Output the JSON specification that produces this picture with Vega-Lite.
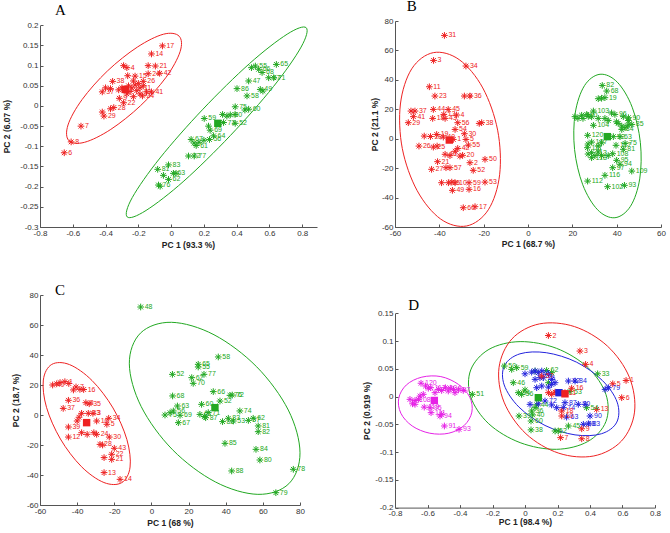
{
  "$schema": "https://vega.github.io/schema/vega-lite/v6.json",
  "background": "white",
  "padding": {"left": 2, "top": -1, "right": 5, "bottom": 5},
  "columns": 2,
  "spacing": {"row": 68, "column": 78},
  "bounds": "flush",
  "datasets": {
    "pA": [
      {"x":-0.053,"y":0.149,"g":"r","l":"17"},{"x":-0.12,"y":0.129,"g":"r","l":"14"},{"x":-0.096,"y":0.099,"g":"r","l":"21"},{"x":-0.14,"y":0.1,"g":"r","l":""},{"x":-0.07,"y":0.081,"g":"r","l":"42"},{"x":-0.14,"y":0.08,"g":"r","l":"24"},{"x":-0.29,"y":0.1,"g":"r","l":""},{"x":-0.27,"y":0.095,"g":"r","l":"4"},{"x":-0.22,"y":0.074,"g":"r","l":"15"},{"x":-0.265,"y":0.075,"g":"r","l":""},{"x":-0.357,"y":0.061,"g":"r","l":"38"},{"x":-0.42,"y":0.035,"g":"r","l":"37"},{"x":-0.4,"y":0.045,"g":"r","l":""},{"x":-0.37,"y":0.043,"g":"r","l":""},{"x":-0.17,"y":0.061,"g":"r","l":"26"},{"x":-0.12,"y":0.035,"g":"r","l":"41"},{"x":-0.175,"y":0.025,"g":"r","l":"24"},{"x":-0.316,"y":0.019,"g":"r","l":"9"},{"x":-0.29,"y":0.008,"g":"r","l":"22"},{"x":-0.23,"y":0.023,"g":"r","l":""},{"x":-0.35,"y":-0.004,"g":"r","l":"28"},{"x":-0.37,"y":-0.007,"g":"r","l":""},{"x":-0.41,"y":-0.025,"g":"r","l":"29"},{"x":-0.42,"y":-0.015,"g":"r","l":""},{"x":-0.55,"y":-0.05,"g":"r","l":"7"},{"x":-0.61,"y":-0.089,"g":"r","l":"8"},{"x":-0.652,"y":-0.116,"g":"r","l":"6"},{"x":-0.26,"y":0.05,"g":"r","l":""},{"x":-0.24,"y":0.045,"g":"r","l":""},{"x":-0.22,"y":0.052,"g":"r","l":""},{"x":-0.2,"y":0.056,"g":"r","l":""},{"x":-0.19,"y":0.045,"g":"r","l":"11"},{"x":-0.25,"y":0.036,"g":"r","l":""},{"x":-0.21,"y":0.038,"g":"r","l":""},{"x":-0.23,"y":0.062,"g":"r","l":""},{"x":-0.3,"y":0.045,"g":"r","l":""},{"x":-0.17,"y":0.05,"g":"r","l":""},{"x":-0.19,"y":0.03,"g":"r","l":"27"},{"x":-0.15,"y":0.035,"g":"r","l":""},{"x":-0.27,"y":0.03,"g":"r","l":""},{"x":-0.32,"y":0.04,"g":"r","l":""},
      {"x":0.642,"y":0.103,"g":"g","l":"65"},{"x":0.514,"y":0.099,"g":"g","l":"55"},{"x":0.49,"y":0.095,"g":"g","l":""},{"x":0.534,"y":0.091,"g":"g","l":"66"},{"x":0.555,"y":0.083,"g":"g","l":"68"},{"x":0.626,"y":0.07,"g":"g","l":"71"},{"x":0.595,"y":0.07,"g":"g","l":"57"},{"x":0.473,"y":0.062,"g":"g","l":"47"},{"x":0.402,"y":0.043,"g":"g","l":"86"},{"x":0.544,"y":0.041,"g":"g","l":"49"},{"x":0.56,"y":0.037,"g":"g","l":""},{"x":0.463,"y":0.025,"g":"g","l":"58"},{"x":0.391,"y":-0.002,"g":"g","l":"75"},{"x":0.473,"y":-0.008,"g":"g","l":"60"},{"x":0.45,"y":-0.01,"g":"g","l":""},{"x":0.361,"y":-0.022,"g":"g","l":"80"},{"x":0.39,"y":-0.021,"g":"g","l":""},{"x":0.34,"y":-0.025,"g":"g","l":""},{"x":0.314,"y":-0.021,"g":"g","l":""},{"x":0.202,"y":-0.031,"g":"g","l":"59"},{"x":0.391,"y":-0.043,"g":"g","l":"52"},{"x":0.32,"y":-0.041,"g":"g","l":"73"},{"x":0.238,"y":-0.06,"g":"g","l":"69"},{"x":0.228,"y":-0.05,"g":"g","l":""},{"x":0.259,"y":-0.074,"g":"g","l":"64"},{"x":0.234,"y":-0.083,"g":"g","l":"56"},{"x":0.153,"y":-0.098,"g":"g","l":"61"},{"x":0.122,"y":-0.083,"g":"g","l":"67"},{"x":0.14,"y":-0.092,"g":"g","l":""},{"x":0.17,"y":-0.09,"g":"g","l":""},{"x":0.2,"y":-0.085,"g":"g","l":""},{"x":0.106,"y":-0.124,"g":"g","l":"72"},{"x":0.141,"y":-0.124,"g":"g","l":"77"},{"x":-0.016,"y":-0.146,"g":"g","l":"83"},{"x":-0.082,"y":-0.157,"g":"g","l":"81"},{"x":0.014,"y":-0.167,"g":"g","l":"63"},{"x":0.03,"y":-0.167,"g":"g","l":""},{"x":-0.016,"y":-0.182,"g":"g","l":"62"},{"x":-0.047,"y":-0.172,"g":"g","l":""},{"x":-0.077,"y":-0.196,"g":"g","l":"76"},{"x":-0.067,"y":-0.199,"g":"g","l":""}
    ],
    "cA": [{"x":-0.28,"y":0.041,"g":"r"},{"x":0.285,"y":-0.043,"g":"g"}],
    "eA": [
      {"g":"r","i":0,"x":0.049,"y":0.173},{"g":"r","i":1,"x":0.055,"y":0.135},{"g":"r","i":2,"x":-0.031,"y":0.071},{"g":"r","i":3,"x":-0.186,"y":0.001},{"g":"r","i":4,"x":-0.368,"y":-0.058},{"g":"r","i":5,"x":-0.528,"y":-0.09},{"g":"r","i":6,"x":-0.624,"y":-0.086},{"g":"r","i":7,"x":-0.629,"y":-0.047},{"g":"r","i":8,"x":-0.543,"y":0.016},{"g":"r","i":9,"x":-0.388,"y":0.087},{"g":"r","i":10,"x":-0.206,"y":0.146},{"g":"r","i":11,"x":-0.046,"y":0.178},
      {"g":"g","i":0,"x":0.824,"y":0.194},{"g":"g","i":1,"x":0.793,"y":0.146},{"g":"g","i":2,"x":0.624,"y":0.048},{"g":"g","i":3,"x":0.362,"y":-0.073},{"g":"g","i":4,"x":0.078,"y":-0.186},{"g":"g","i":5,"x":-0.153,"y":-0.259},{"g":"g","i":6,"x":-0.268,"y":-0.275},{"g":"g","i":7,"x":-0.237,"y":-0.227},{"g":"g","i":8,"x":-0.068,"y":-0.129},{"g":"g","i":9,"x":0.194,"y":-0.008},{"g":"g","i":10,"x":0.478,"y":0.105},{"g":"g","i":11,"x":0.708,"y":0.178}
    ],
    "pB": [
      {"x":-37.7,"y":70.2,"g":"r","l":"31"},{"x":-42.6,"y":53.2,"g":"r","l":"3"},{"x":-28,"y":49.4,"g":"r","l":"34"},{"x":-44.5,"y":35.3,"g":"r","l":"11"},{"x":-42,"y":29,"g":"r","l":"23"},{"x":-28.7,"y":29,"g":"r","l":"9"},{"x":-26.2,"y":29,"g":"r","l":"36"},{"x":-52.8,"y":18.8,"g":"r","l":""},{"x":-51,"y":18.8,"g":"r","l":"37"},{"x":-42.7,"y":19.9,"g":"r","l":"44"},{"x":-36,"y":19.9,"g":"r","l":"45"},{"x":-38,"y":16.5,"g":"r","l":"13"},{"x":-32.2,"y":16.1,"g":"r","l":"4"},{"x":-51.7,"y":15,"g":"r","l":"41"},{"x":-54,"y":10.9,"g":"r","l":"29"},{"x":-43,"y":13.8,"g":"r","l":"18"},{"x":-37.4,"y":13.8,"g":"r","l":"43"},{"x":-31.7,"y":10.9,"g":"r","l":"56"},{"x":-22,"y":10.4,"g":"r","l":""},{"x":-20.9,"y":10.9,"g":"r","l":"38"},{"x":-32.9,"y":6.3,"g":"r","l":"54"},{"x":-28.7,"y":3.4,"g":"r","l":"30"},{"x":-46.8,"y":1.8,"g":"r","l":""},{"x":-41.2,"y":2.9,"g":"r","l":"19"},{"x":-44,"y":1.5,"g":"r","l":"28"},{"x":-38.2,"y":1.1,"g":"r","l":"40"},{"x":-33.7,"y":-0.5,"g":"r","l":"1"},{"x":-28,"y":-0.5,"g":"r","l":"5"},{"x":-26.9,"y":-4.3,"g":"r","l":"55"},{"x":-49.2,"y":-5,"g":"r","l":"26"},{"x":-42.7,"y":-5.7,"g":"r","l":"25"},{"x":-41,"y":-5,"g":"r","l":""},{"x":-31.7,"y":-6.6,"g":"r","l":"42"},{"x":-32.8,"y":-8.5,"g":"r","l":""},{"x":-37.4,"y":-10.6,"g":"r","l":"46"},{"x":-35.2,"y":-11.5,"g":"r","l":""},{"x":-29.5,"y":-11.3,"g":"r","l":"20"},{"x":-30.7,"y":-11.8,"g":"r","l":""},{"x":-19.4,"y":-14,"g":"r","l":"50"},{"x":-40.8,"y":-15.6,"g":"r","l":"21"},{"x":-26.2,"y":-16.3,"g":"r","l":"2"},{"x":-43.5,"y":-20.8,"g":"r","l":"27"},{"x":-37,"y":-19.7,"g":"r","l":""},{"x":-35.2,"y":-19.7,"g":"r","l":"57"},{"x":-24.7,"y":-21.5,"g":"r","l":"52"},{"x":-39,"y":-29.9,"g":"r","l":""},{"x":-35.9,"y":-29.9,"g":"r","l":"35"},{"x":-34.4,"y":-29.5,"g":"r","l":""},{"x":-32.9,"y":-29.9,"g":"r","l":"10"},{"x":-26.6,"y":-29.9,"g":"r","l":"59"},{"x":-19.4,"y":-29.5,"g":"r","l":"53"},{"x":-34.1,"y":-35.1,"g":"r","l":"49"},{"x":-26.6,"y":-34.4,"g":"r","l":"16"},{"x":-29.2,"y":-46.9,"g":"r","l":"60"},{"x":-23.9,"y":-46.2,"g":"r","l":"17"},
      {"x":33.5,"y":36.2,"g":"g","l":"82"},{"x":35.5,"y":32.4,"g":"g","l":"68"},{"x":31.7,"y":27.2,"g":"g","l":""},{"x":34.7,"y":27.9,"g":"g","l":"19"},{"x":33.2,"y":27.5,"g":"g","l":""},{"x":29.5,"y":18.8,"g":"g","l":"103"},{"x":39.2,"y":16.5,"g":"g","l":"96"},{"x":37.7,"y":17.5,"g":"g","l":""},{"x":21.2,"y":15,"g":"g","l":""},{"x":24.2,"y":15.9,"g":"g","l":"100"},{"x":26.5,"y":16.5,"g":"g","l":""},{"x":27.2,"y":15.2,"g":"g","l":""},{"x":45.3,"y":14.3,"g":"g","l":"90"},{"x":43,"y":15,"g":"g","l":""},{"x":29.5,"y":9.1,"g":"g","l":"104"},{"x":46.8,"y":9.7,"g":"g","l":"85"},{"x":45,"y":9.1,"g":"g","l":""},{"x":42.3,"y":8.6,"g":"g","l":""},{"x":42.3,"y":6.3,"g":"g","l":"84"},{"x":26.9,"y":2.3,"g":"g","l":"120"},{"x":38.5,"y":1.4,"g":"g","l":"92"},{"x":41.5,"y":1.4,"g":"g","l":"63"},{"x":28.7,"y":-2.3,"g":"g","l":"107"},{"x":43.8,"y":-3.2,"g":"g","l":"75"},{"x":39.7,"y":-4.5,"g":"g","l":"117"},{"x":26.8,"y":-6.1,"g":"g","l":"111"},{"x":43,"y":-7.2,"g":"g","l":"81"},{"x":28.7,"y":-9.5,"g":"g","l":"113"},{"x":31.7,"y":-9,"g":"g","l":""},{"x":38.2,"y":-10.2,"g":"g","l":"108"},{"x":28.7,"y":-12.9,"g":"g","l":"118"},{"x":40,"y":-14.7,"g":"g","l":"95"},{"x":41.5,"y":-17.4,"g":"g","l":"94"},{"x":38.2,"y":-19.7,"g":"g","l":"97"},{"x":46.8,"y":-22,"g":"g","l":"109"},{"x":34.7,"y":-24.9,"g":"g","l":"116"},{"x":26.9,"y":-28.8,"g":"g","l":"112"},{"x":35.9,"y":-32.6,"g":"g","l":"102"},{"x":43.5,"y":-31.7,"g":"g","l":"93"},{"x":22.5,"y":13.8,"g":"g","l":""},{"x":24.8,"y":13.8,"g":"g","l":""},{"x":28.7,"y":14.9,"g":"g","l":""},{"x":31.7,"y":13.8,"g":"g","l":""},{"x":34.7,"y":13.8,"g":"g","l":""},{"x":36.2,"y":12.4,"g":"g","l":""},{"x":39.9,"y":11.5,"g":"g","l":""},{"x":40.7,"y":10.4,"g":"g","l":""},{"x":43.8,"y":7.5,"g":"g","l":""},{"x":45.3,"y":12.4,"g":"g","l":""},{"x":27.1,"y":-3.6,"g":"g","l":""},{"x":31.7,"y":-5,"g":"g","l":""},{"x":33.2,"y":-2.8,"g":"g","l":""},{"x":27.1,"y":-10.4,"g":"g","l":""},{"x":30.2,"y":-11.5,"g":"g","l":""},{"x":33.2,"y":-11.5,"g":"g","l":""},{"x":36.2,"y":-11.5,"g":"g","l":""}
    ],
    "cB": [{"x":-35.5,"y":-0.9,"g":"r"},{"x":35.8,"y":1.4,"g":"g"}],
    "eB": [
      {"g":"r","i":0,"x":-27.7,"y":-59.3},{"g":"r","i":1,"x":-39.4,"y":-54.6},{"g":"r","i":2,"x":-50.0,"y":-35.3},{"g":"r","i":3,"x":-56.7,"y":-6.7},{"g":"r","i":4,"x":-57.55,"y":23.6},{"g":"r","i":5,"x":-52.45,"y":47.5},{"g":"r","i":6,"x":-42.7,"y":58.5},{"g":"r","i":7,"x":-31.0,"y":53.7},{"g":"r","i":8,"x":-20.4,"y":34.5},{"g":"r","i":9,"x":-13.7,"y":5.8},{"g":"r","i":10,"x":-12.8,"y":-24.5},{"g":"r","i":11,"x":-17.9,"y":-48.3},
      {"g":"g","i":0,"x":39.2,"y":-53.7},{"g":"g","i":1,"x":31.4,"y":-48.3},{"g":"g","i":2,"x":24.7,"y":-31.3},{"g":"g","i":3,"x":21.0,"y":-7.3},{"g":"g","i":4,"x":21.3,"y":17.4},{"g":"g","i":5,"x":25.5,"y":36.1},{"g":"g","i":6,"x":32.5,"y":43.8},{"g":"g","i":7,"x":40.3,"y":38.4},{"g":"g","i":8,"x":47.0,"y":21.4},{"g":"g","i":9,"x":50.7,"y":-2.7},{"g":"g","i":10,"x":50.4,"y":-27.3},{"g":"g","i":11,"x":46.2,"y":-46}
    ],
    "pC": [
      {"x":-49.2,"y":21.6,"g":"r","l":""},{"x":-53.2,"y":20,"g":"r","l":"40"},{"x":-51,"y":20.8,"g":"r","l":""},{"x":-46.6,"y":22.2,"g":"r","l":"1"},{"x":-44.5,"y":21,"g":"r","l":""},{"x":-40.6,"y":18.7,"g":"r","l":"7"},{"x":-38.5,"y":17.1,"g":"r","l":""},{"x":-36.5,"y":17,"g":"r","l":"16"},{"x":-42,"y":16.7,"g":"r","l":""},{"x":-44.7,"y":9.8,"g":"r","l":"36"},{"x":-47.5,"y":4.4,"g":"r","l":"37"},{"x":-35.3,"y":8.2,"g":"r","l":"8"},{"x":-33.5,"y":7.5,"g":"r","l":"35"},{"x":-37.6,"y":1.1,"g":"r","l":""},{"x":-34,"y":1.1,"g":"r","l":"33"},{"x":-31.5,"y":1.1,"g":"r","l":"3"},{"x":-39,"y":-1.5,"g":"r","l":""},{"x":-40,"y":-4,"g":"r","l":""},{"x":-44.7,"y":-8,"g":"r","l":"39"},{"x":-29.5,"y":-4,"g":"r","l":"16"},{"x":-23,"y":-2.2,"g":"r","l":"34"},{"x":-24,"y":-6.2,"g":"r","l":"5"},{"x":-44.7,"y":-14.7,"g":"r","l":"12"},{"x":-37.6,"y":-11.8,"g":"r","l":""},{"x":-34.6,"y":-12.9,"g":"r","l":""},{"x":-31,"y":-11.8,"g":"r","l":""},{"x":-29.5,"y":-12.9,"g":"r","l":"24"},{"x":-22.7,"y":-14.7,"g":"r","l":"30"},{"x":-27.7,"y":-19.6,"g":"r","l":"28"},{"x":-26.3,"y":-20,"g":"r","l":""},{"x":-20,"y":-22.2,"g":"r","l":"43"},{"x":-21.4,"y":-26.2,"g":"r","l":"22"},{"x":-25.5,"y":-28.4,"g":"r","l":""},{"x":-21.4,"y":-29.6,"g":"r","l":"21"},{"x":-25.5,"y":-38.4,"g":"r","l":"13"},{"x":-16.9,"y":-42.9,"g":"r","l":"14"},
      {"x":-5.8,"y":72,"g":"g","l":"48"},{"x":36,"y":38.7,"g":"g","l":"58"},{"x":25.2,"y":33.8,"g":"g","l":"65"},{"x":25.2,"y":32,"g":"g","l":"55"},{"x":11.3,"y":27.1,"g":"g","l":"52"},{"x":21.7,"y":24.9,"g":"g","l":"62"},{"x":28.3,"y":27.1,"g":"g","l":"77"},{"x":22.5,"y":21.1,"g":"g","l":"70"},{"x":11.4,"y":12.7,"g":"g","l":"68"},{"x":33.3,"y":15.6,"g":"g","l":"66"},{"x":42.3,"y":13.1,"g":"g","l":"76"},{"x":43.5,"y":13.3,"g":"g","l":"72"},{"x":36.9,"y":9.3,"g":"g","l":"52"},{"x":14,"y":6,"g":"g","l":"63"},{"x":27,"y":7.1,"g":"g","l":"60"},{"x":11.8,"y":2.7,"g":"g","l":"56"},{"x":10,"y":1.5,"g":"g","l":""},{"x":30.6,"y":1.6,"g":"g","l":"71"},{"x":7.3,"y":0,"g":"g","l":"75"},{"x":15.4,"y":-0.2,"g":"g","l":"69"},{"x":26.1,"y":0.4,"g":"g","l":"61"},{"x":28.5,"y":-1,"g":"g","l":""},{"x":14.5,"y":-5.1,"g":"g","l":"67"},{"x":29.2,"y":-1.8,"g":"g","l":"87"},{"x":47.6,"y":2.7,"g":"g","l":"74"},{"x":41.4,"y":-2.2,"g":"g","l":"83"},{"x":38.3,"y":-4.4,"g":"g","l":"86"},{"x":44.1,"y":-4,"g":"g","l":"53"},{"x":52.2,"y":-3.6,"g":"g","l":"57"},{"x":54.8,"y":-2.2,"g":"g","l":"62"},{"x":57.5,"y":-7.3,"g":"g","l":"81"},{"x":57.5,"y":-11.1,"g":"g","l":"82"},{"x":39.6,"y":-18.9,"g":"g","l":"85"},{"x":56.3,"y":-22.9,"g":"g","l":"84"},{"x":58.4,"y":-30,"g":"g","l":"80"},{"x":43.2,"y":-37.3,"g":"g","l":"88"},{"x":76.4,"y":-36.2,"g":"g","l":"78"},{"x":67,"y":-51.8,"g":"g","l":"79"}
    ],
    "cC": [{"x":-34.9,"y":-5.1,"g":"r"},{"x":34.2,"y":4.9,"g":"g"}],
    "eC": [
      {"g":"r","i":0,"x":-16.0,"y":-45.1},{"g":"r","i":1,"x":-25.6,"y":-45},{"g":"r","i":2,"x":-37.7,"y":-34.4},{"g":"r","i":3,"x":-49.0,"y":-16},{"g":"r","i":4,"x":-56.5,"y":5.1},{"g":"r","i":5,"x":-58.2,"y":23.3},{"g":"r","i":6,"x":-53.7,"y":33.7},{"g":"r","i":7,"x":-44.1,"y":33.6},{"g":"r","i":8,"x":-32.0,"y":23},{"g":"r","i":9,"x":-20.7,"y":4.7},{"g":"r","i":10,"x":-13.2,"y":-16.4},{"g":"r","i":11,"x":-11.5,"y":-34.7},
      {"g":"g","i":0,"x":74.0,"y":-45.8},{"g":"g","i":1,"x":57.3,"y":-52.9},{"g":"g","i":2,"x":34.4,"y":-44.6},{"g":"g","i":3,"x":11.4,"y":-23.2},{"g":"g","i":4,"x":-5.5,"y":5.6},{"g":"g","i":5,"x":-11.9,"y":34.1},{"g":"g","i":6,"x":-5.9,"y":54.6},{"g":"g","i":7,"x":10.8,"y":61.8},{"g":"g","i":8,"x":33.7,"y":53.5},{"g":"g","i":9,"x":56.7,"y":32.1},{"g":"g","i":10,"x":73.7,"y":3.3},{"g":"g","i":11,"x":80.0,"y":-25.2}
    ],
    "pD": [
      {"x":-0.64,"y":0.024,"g":"m","l":"120"},{"x":-0.612,"y":0.019,"g":"m","l":""},{"x":-0.58,"y":0.016,"g":"m","l":"117"},{"x":-0.595,"y":0.015,"g":"m","l":""},{"x":-0.49,"y":0.016,"g":"m","l":"104"},{"x":-0.46,"y":0.015,"g":"m","l":""},{"x":-0.44,"y":0.013,"g":"m","l":""},{"x":-0.41,"y":0.012,"g":"m","l":"97"},{"x":-0.38,"y":0.011,"g":"m","l":""},{"x":-0.513,"y":0.011,"g":"m","l":""},{"x":-0.554,"y":0.007,"g":"m","l":""},{"x":-0.533,"y":0.013,"g":"m","l":""},{"x":-0.472,"y":0.01,"g":"m","l":""},{"x":-0.431,"y":0.007,"g":"m","l":""},{"x":-0.708,"y":-0.005,"g":"m","l":""},{"x":-0.677,"y":-0.007,"g":"m","l":"108"},{"x":-0.692,"y":-0.013,"g":"m","l":""},{"x":-0.656,"y":-0.005,"g":"m","l":""},{"x":-0.62,"y":-0.019,"g":"m","l":"119"},{"x":-0.585,"y":-0.02,"g":"m","l":"95"},{"x":-0.578,"y":-0.029,"g":"m","l":"111"},{"x":-0.523,"y":-0.035,"g":"m","l":"94"},{"x":-0.513,"y":-0.032,"g":"m","l":""},{"x":-0.496,"y":-0.053,"g":"m","l":"91"},{"x":-0.406,"y":-0.059,"g":"m","l":"93"},{"x":-0.677,"y":-0.014,"g":"m","l":""},{"x":-0.646,"y":0.001,"g":"m","l":""},{"x":-0.626,"y":0.004,"g":"m","l":""},
      {"x":-0.127,"y":0.055,"g":"g","l":"50"},{"x":-0.051,"y":0.052,"g":"g","l":"59"},{"x":-0.082,"y":0.049,"g":"g","l":""},{"x":-0.072,"y":0.025,"g":"g","l":"46"},{"x":-0.324,"y":0.004,"g":"g","l":"51"},{"x":-0.041,"y":0.007,"g":"g","l":"54"},{"x":-0.021,"y":0.004,"g":"g","l":"56"},{"x":0.072,"y":-0.015,"g":"g","l":"44"},{"x":0.041,"y":-0.026,"g":"g","l":"36"},{"x":0.062,"y":-0.02,"g":"g","l":""},{"x":-0.037,"y":-0.035,"g":"g","l":"39"},{"x":0.047,"y":-0.033,"g":"g","l":"40"},{"x":0.037,"y":-0.044,"g":"g","l":"60"},{"x":0.037,"y":-0.06,"g":"g","l":"38"},{"x":0.447,"y":0.041,"g":"g","l":"33"},{"x":0.277,"y":0.009,"g":"g","l":"53"},{"x":0.379,"y":-0.02,"g":"g","l":"54"},{"x":0.267,"y":-0.053,"g":"g","l":"45"},{"x":0.185,"y":-0.062,"g":"g","l":"52"},{"x":0.205,"y":-0.062,"g":"g","l":""},{"x":0.062,"y":0.046,"g":"g","l":""},{"x":0.133,"y":0.047,"g":"g","l":"62"},{"x":0.164,"y":0.043,"g":"g","l":""},{"x":0.144,"y":0.025,"g":"g","l":""},{"x":0.0,"y":0.012,"g":"g","l":""},
      {"x":0.513,"y":0.016,"g":"b","l":"79"},{"x":0.493,"y":0.013,"g":"b","l":""},{"x":0.308,"y":0.028,"g":"b","l":"84"},{"x":0.267,"y":0.028,"g":"b","l":"82"},{"x":0.4,"y":-0.035,"g":"b","l":"90"},{"x":0.359,"y":-0.05,"g":"b","l":"88"},{"x":0.39,"y":-0.049,"g":"b","l":"83"},{"x":0.256,"y":-0.037,"g":"b","l":"63"},{"x":0.246,"y":-0.011,"g":"b","l":"87"},{"x":0.236,"y":-0.02,"g":"b","l":"74"},{"x":0.328,"y":-0.014,"g":"b","l":"70"},{"x":0.37,"y":-0.014,"g":"b","l":""},{"x":0.062,"y":0.046,"g":"b","l":""},{"x":0.082,"y":0.043,"g":"b","l":"86"},{"x":0.103,"y":0.046,"g":"b","l":""},{"x":0.113,"y":0.034,"g":"b","l":"76"},{"x":0.144,"y":0.04,"g":"b","l":""},{"x":0.062,"y":0.031,"g":"b","l":""},{"x":0.092,"y":0.034,"g":"b","l":""},{"x":0.164,"y":0.031,"g":"b","l":""},{"x":0.041,"y":0.044,"g":"b","l":""},{"x":0.123,"y":-0.008,"g":"b","l":"72"},{"x":0.072,"y":0.016,"g":"b","l":""},{"x":0.103,"y":0.019,"g":"b","l":""},{"x":0.164,"y":0.022,"g":"b","l":""},{"x":0.144,"y":0.017,"g":"b","l":""},{"x":0.185,"y":0.025,"g":"b","l":""},{"x":0.0,"y":0.041,"g":"b","l":""},{"x":0.031,"y":-0.014,"g":"b","l":""},{"x":0.082,"y":-0.013,"g":"b","l":""},{"x":0.164,"y":-0.015,"g":"b","l":""},{"x":0.195,"y":-0.02,"g":"b","l":""},
      {"x":0.144,"y":0.11,"g":"r","l":"2"},{"x":0.338,"y":0.082,"g":"r","l":"3"},{"x":0.373,"y":0.058,"g":"r","l":"4"},{"x":0.622,"y":0.029,"g":"r","l":"1"},{"x":0.54,"y":0.023,"g":"r","l":"5"},{"x":0.595,"y":-0.002,"g":"r","l":"6"},{"x":0.441,"y":-0.023,"g":"r","l":"13"},{"x":0.287,"y":0.015,"g":"r","l":"16"},{"x":0.226,"y":-0.026,"g":"r","l":"18"},{"x":0.226,"y":-0.035,"g":"r","l":"10"},{"x":0.349,"y":-0.058,"g":"r","l":"9"},{"x":0.349,"y":-0.076,"g":"r","l":"8"},{"x":0.219,"y":-0.074,"g":"r","l":"7"},{"x":0.103,"y":0.037,"g":"r","l":"57"},{"x":0.144,"y":0.007,"g":"r","l":"12"},{"x":0.164,"y":0.004,"g":"r","l":""},{"x":0.246,"y":0.007,"g":"r","l":"11"},{"x":0.185,"y":0.008,"g":"r","l":""}
    ],
    "cD": [{"x":-0.558,"y":-0.007,"g":"m"},{"x":0.082,"y":-0.002,"g":"g"},{"x":0.209,"y":0.007,"g":"b"},{"x":0.246,"y":0.005,"g":"r"}],
    "eD": [
      {"g":"m","i":0,"x":-0.327,"y":-0.028},{"g":"m","i":1,"x":-0.374,"y":-0.052},{"g":"m","i":2,"x":-0.469,"y":-0.066},{"g":"m","i":3,"x":-0.586,"y":-0.066},{"g":"m","i":4,"x":-0.694,"y":-0.053},{"g":"m","i":5,"x":-0.764,"y":-0.03},{"g":"m","i":6,"x":-0.777,"y":-0.003},{"g":"m","i":7,"x":-0.73,"y":0.021},{"g":"m","i":8,"x":-0.635,"y":0.035},{"g":"m","i":9,"x":-0.518,"y":0.036},{"g":"m","i":10,"x":-0.41,"y":0.022},{"g":"m","i":11,"x":-0.34,"y":-0.001},
      {"g":"g","i":0,"x":0.498,"y":-0.045},{"g":"g","i":1,"x":0.386,"y":-0.081},{"g":"g","i":2,"x":0.193,"y":-0.095},{"g":"g","i":3,"x":-0.03,"y":-0.083},{"g":"g","i":4,"x":-0.223,"y":-0.049},{"g":"g","i":5,"x":-0.334,"y":-0.0005},{"g":"g","i":6,"x":-0.334,"y":0.048},{"g":"g","i":7,"x":-0.222,"y":0.085},{"g":"g","i":8,"x":-0.03,"y":0.099},{"g":"g","i":9,"x":0.193,"y":0.087},{"g":"g","i":10,"x":0.386,"y":0.0525},{"g":"g","i":11,"x":0.498,"y":0.004},
      {"g":"r","i":0,"x":0.594,"y":-0.08},{"g":"r","i":1,"x":0.423,"y":-0.107},{"g":"r","i":2,"x":0.208,"y":-0.102},{"g":"r","i":3,"x":0.006,"y":-0.067},{"g":"r","i":4,"x":-0.129,"y":-0.01},{"g":"r","i":5,"x":-0.16,"y":0.052},{"g":"r","i":6,"x":-0.08,"y":0.104},{"g":"r","i":7,"x":0.09,"y":0.131},{"g":"r","i":8,"x":0.305,"y":0.126},{"g":"r","i":9,"x":0.507,"y":0.091},{"g":"r","i":10,"x":0.642,"y":0.035},{"g":"r","i":11,"x":0.674,"y":-0.028},
      {"g":"b","i":0,"x":0.565,"y":-0.046},{"g":"b","i":1,"x":0.47,"y":-0.067},{"g":"b","i":2,"x":0.308,"y":-0.069},{"g":"b","i":3,"x":0.123,"y":-0.052},{"g":"b","i":4,"x":-0.037,"y":-0.019},{"g":"b","i":5,"x":-0.128,"y":0.021},{"g":"b","i":6,"x":-0.126,"y":0.056},{"g":"b","i":7,"x":-0.031,"y":0.077},{"g":"b","i":8,"x":0.131,"y":0.079},{"g":"b","i":9,"x":0.317,"y":0.062},{"g":"b","i":10,"x":0.476,"y":0.029},{"g":"b","i":11,"x":0.567,"y":-0.01}
    ]
  },
  "concat": [
    {
      "width": 277, "height": 206,
      "title": {"text": "A", "anchor": "start", "frame": "group", "font": "Liberation Serif", "fontSize": 15, "fontWeight": "normal", "color": "#000", "baseline": "alphabetic", "offset": 0, "dx": 15, "dy": 9.3},
      "encoding": {
        "x": {"field": "x", "type": "quantitative", "scale": {"domain": [-0.8, 0.89], "nice": false, "zero": false}, "axis": {"values": [-0.8,-0.6,-0.4,-0.2,0,0.2,0.4,0.6,0.8], "labelExpr": "'' + datum.value", "title": "PC 1 (93.3 %)", "titleY": 17.3, "titleX": 148}},
        "y": {"field": "y", "type": "quantitative", "scale": {"domain": [-0.3, 0.2], "nice": false, "zero": false, "range": [206, 4.3]}, "axis": {"values": [-0.3,-0.25,-0.2,-0.15,-0.1,-0.05,0,0.05,0.1,0.15,0.2], "labelExpr": "'' + datum.value", "title": "PC 2 (6.07 %)", "titleX": -33.7}},
        "color": {"field": "g", "type": "nominal", "scale": {"domain": ["r","g","b","m"], "range": ["#ee2222","#22a822","#2222dd","#e622e6"]}, "legend": null}
      },
      "layer": [
        {"data": {"name": "eA"}, "mark": {"type": "line", "interpolate": "cardinal-closed", "strokeWidth": 1}, "encoding": {"detail": {"field": "g"}, "order": {"field": "i", "type": "quantitative"}}},
        {"data": {"name": "pA"}, "mark": {"type": "point", "shape": "M-1,0L1,0M0,-1L0,1M-0.71,-0.71L0.71,0.71M-0.71,0.71L0.71,-0.71", "size": 45, "strokeWidth": 1, "filled": false, "opacity": 1}},
        {"data": {"name": "pA"}, "mark": {"type": "text", "align": "left", "baseline": "middle", "dx": 4, "fontSize": 7, "font": "Liberation Sans"}, "encoding": {"text": {"field": "l"}}},
        {"data": {"name": "cA"}, "mark": {"type": "square", "size": 55, "filled": true, "opacity": 1}}
      ]
    },
    {
      "width": 266, "height": 206,
      "title": {"text": "B", "anchor": "start", "frame": "group", "font": "Liberation Serif", "fontSize": 15, "fontWeight": "normal", "color": "#000", "baseline": "alphabetic", "offset": 0, "dx": 11.7, "dy": 9.3},
      "encoding": {
        "x": {"field": "x", "type": "quantitative", "scale": {"domain": [-60, 60], "nice": false, "zero": false}, "axis": {"values": [-60,-40,-20,0,20,40,60], "labelExpr": "'' + datum.value", "title": "PC 1 (68.7 %)", "titleY": 16.3}},
        "y": {"field": "y", "type": "quantitative", "scale": {"domain": [-60, 80], "nice": false, "zero": false}, "axis": {"values": [-60,-40,-20,0,20,40,60,80], "labelExpr": "'' + datum.value", "title": "PC 2 (21.1 %)", "titleX": -21}},
        "color": {"field": "g", "type": "nominal", "scale": {"domain": ["r","g","b","m"], "range": ["#ee2222","#22a822","#2222dd","#e622e6"]}, "legend": null}
      },
      "layer": [
        {"data": {"name": "eB"}, "mark": {"type": "line", "interpolate": "cardinal-closed", "strokeWidth": 1}, "encoding": {"detail": {"field": "g"}, "order": {"field": "i", "type": "quantitative"}}},
        {"data": {"name": "pB"}, "mark": {"type": "point", "shape": "M-1,0L1,0M0,-1L0,1M-0.71,-0.71L0.71,0.71M-0.71,0.71L0.71,-0.71", "size": 45, "strokeWidth": 1, "filled": false, "opacity": 1}},
        {"data": {"name": "pB"}, "mark": {"type": "text", "align": "left", "baseline": "middle", "dx": 4, "fontSize": 7, "font": "Liberation Sans"}, "encoding": {"text": {"field": "l"}}},
        {"data": {"name": "cB"}, "mark": {"type": "square", "size": 55, "filled": true, "opacity": 1}}
      ]
    },
    {
      "width": 260, "height": 210,
      "title": {"text": "C", "anchor": "start", "frame": "group", "font": "Liberation Serif", "fontSize": 15, "fontWeight": "normal", "color": "#000", "baseline": "alphabetic", "offset": 0, "dx": 15, "dy": 19},
      "encoding": {
        "x": {"field": "x", "type": "quantitative", "scale": {"domain": [-60, 80], "nice": false, "zero": false}, "axis": {"values": [-60,-40,-20,0,20,40,60,80], "labelExpr": "'' + datum.value", "title": "PC 1 (68 %)", "titleY": 17}},
        "y": {"field": "y", "type": "quantitative", "scale": {"domain": [-60, 80], "nice": false, "zero": false}, "axis": {"values": [-60,-40,-20,0,20,40,60,80], "labelExpr": "'' + datum.value", "title": "PC 2 (18.7 %)", "titleX": -24.5}},
        "color": {"field": "g", "type": "nominal", "scale": {"domain": ["r","g","b","m"], "range": ["#ee2222","#22a822","#2222dd","#e622e6"]}, "legend": null}
      },
      "layer": [
        {"data": {"name": "eC"}, "mark": {"type": "line", "interpolate": "cardinal-closed", "strokeWidth": 1}, "encoding": {"detail": {"field": "g"}, "order": {"field": "i", "type": "quantitative"}}},
        {"data": {"name": "pC"}, "mark": {"type": "point", "shape": "M-1,0L1,0M0,-1L0,1M-0.71,-0.71L0.71,0.71M-0.71,0.71L0.71,-0.71", "size": 45, "strokeWidth": 1, "filled": false, "opacity": 1}},
        {"data": {"name": "pC"}, "mark": {"type": "text", "align": "left", "baseline": "middle", "dx": 4, "fontSize": 7, "font": "Liberation Sans"}, "encoding": {"text": {"field": "l"}}},
        {"data": {"name": "cC"}, "mark": {"type": "square", "size": 55, "filled": true, "opacity": 1}}
      ]
    },
    {
      "width": 260, "height": 212.6,
      "title": {"text": "D", "anchor": "start", "frame": "group", "font": "Liberation Serif", "fontSize": 15, "fontWeight": "normal", "color": "#000", "baseline": "alphabetic", "offset": 0, "dx": 13.3, "dy": 30.3},
      "encoding": {
        "x": {"field": "x", "type": "quantitative", "scale": {"domain": [-0.8, 0.8], "nice": false, "zero": false}, "axis": {"values": [-0.8,-0.6,-0.4,-0.2,0,0.2,0.4,0.6,0.8], "labelExpr": "'' + datum.value", "title": "PC 1 (98.4 %)", "titleY": 13.7}},
        "y": {"field": "y", "type": "quantitative", "scale": {"domain": [-0.2, 0.15], "nice": false, "zero": false, "range": [212.6, 18.3]}, "axis": {"values": [-0.2,-0.15,-0.1,-0.05,0,0.05,0.1,0.15], "labelExpr": "'' + datum.value", "title": "PC 2 (0.919 %)", "titleX": -28.7}},
        "color": {"field": "g", "type": "nominal", "scale": {"domain": ["r","g","b","m"], "range": ["#ee2222","#22a822","#2222dd","#e622e6"]}, "legend": null}
      },
      "layer": [
        {"data": {"name": "eD"}, "mark": {"type": "line", "interpolate": "cardinal-closed", "strokeWidth": 1}, "encoding": {"detail": {"field": "g"}, "order": {"field": "i", "type": "quantitative"}}},
        {"data": {"name": "pD"}, "mark": {"type": "point", "shape": "M-1,0L1,0M0,-1L0,1M-0.71,-0.71L0.71,0.71M-0.71,0.71L0.71,-0.71", "size": 45, "strokeWidth": 1, "filled": false, "opacity": 1}},
        {"data": {"name": "pD"}, "mark": {"type": "text", "align": "left", "baseline": "middle", "dx": 4, "fontSize": 7, "font": "Liberation Sans"}, "encoding": {"text": {"field": "l"}}},
        {"data": {"name": "cD"}, "mark": {"type": "square", "size": 55, "filled": true, "opacity": 1}}
      ]
    }
  ],
  "config": {
    "view": {"stroke": null},
    "axis": {"grid": false, "domainColor": "#555", "tickColor": "#555", "tickSize": -3, "labelFont": "Liberation Sans", "labelFontSize": 8, "labelColor": "#333", "labelPadding": 5, "labelFlush": false, "labelOverlap": false, "titleFont": "Liberation Sans", "titleFontSize": 8.5, "titleFontWeight": "bold", "titleColor": "#222", "titleBaseline": "middle"}
  }
}
